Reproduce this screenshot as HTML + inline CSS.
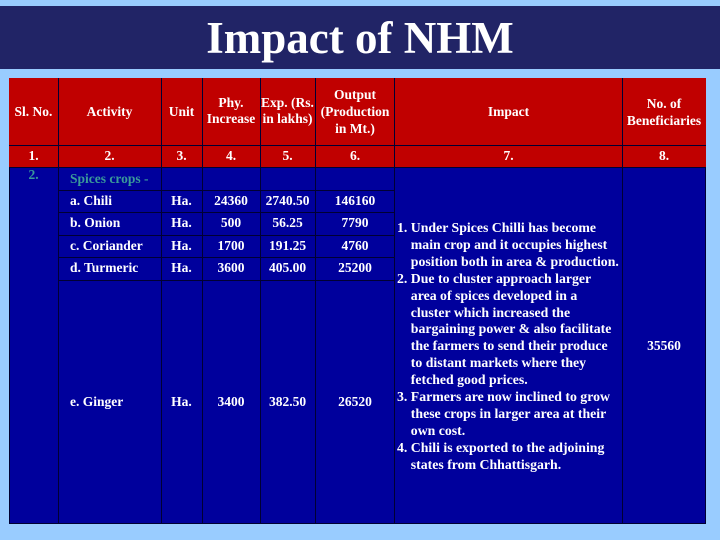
<!DOCTYPE html>
<html><head><meta charset="utf-8"><style>
body{margin:0;width:720px;height:540px;background:#99ccff;position:relative;overflow:hidden;font-family:"Liberation Serif",serif;font-weight:bold;color:#fff}
.t{position:absolute;font-size:13.5px;white-space:nowrap}
.c{text-align:center}
</style></head><body>
<div style="position:absolute;left:0;top:6px;width:720px;height:63px;background:#212466"></div>
<div style="position:absolute;left:0;top:10px;width:720px;text-align:center;font-size:45px;line-height:56px">Impact of NHM</div>

<div style="position:absolute;left:9px;top:78px;width:697px;height:446px;background:#00009c;border:1px solid #000033;box-sizing:border-box"></div>
<div style="position:absolute;left:9px;top:78px;width:697px;height:89px;background:#c00000"></div>

<div id="grid"></div>

<div class="t c" style="left:9px;width:49px;top:104px">Sl. No.</div>
<div class="t c" style="left:58px;width:103px;top:104px">Activity</div>
<div class="t c" style="left:161px;width:41px;top:104px">Unit</div>
<div class="t c" style="left:202px;width:58px;top:95px;line-height:16px">Phy.<br>Increase</div>
<div class="t c" style="left:260px;width:55px;top:95px;line-height:16px">Exp. (Rs.<br>in lakhs)</div>
<div class="t c" style="left:315px;width:80px;top:86px;line-height:17px">Output<br>(Production<br>in Mt.)</div>
<div class="t c" style="left:395px;width:227px;top:104px">Impact</div>
<div class="t c" style="left:622px;width:84px;top:95px;line-height:17px">No. of<br>Beneficiaries</div>

<div class="t c" style="left:9px;width:49px;top:148px">1.</div>
<div class="t c" style="left:58px;width:103px;top:148px">2.</div>
<div class="t c" style="left:161px;width:41px;top:148px">3.</div>
<div class="t c" style="left:202px;width:58px;top:148px">4.</div>
<div class="t c" style="left:260px;width:55px;top:148px">5.</div>
<div class="t c" style="left:315px;width:80px;top:148px">6.</div>
<div class="t c" style="left:395px;width:227px;top:148px">7.</div>
<div class="t c" style="left:622px;width:84px;top:148px">8.</div>

<div class="t c" style="left:9px;width:49px;top:167px;color:#3a9a9a">2.</div>
<div class="t" style="left:70px;top:171px;color:#3a9a9a">Spices crops -</div>

<div class="t" style="left:70px;top:193px">a. Chili</div>
<div class="t c" style="left:161px;width:41px;top:193px">Ha.</div>
<div class="t c" style="left:202px;width:58px;top:193px">24360</div>
<div class="t c" style="left:260px;width:55px;top:193px">2740.50</div>
<div class="t c" style="left:315px;width:80px;top:193px">146160</div>

<div class="t" style="left:70px;top:215px">b. Onion</div>
<div class="t c" style="left:161px;width:41px;top:215px">Ha.</div>
<div class="t c" style="left:202px;width:58px;top:215px">500</div>
<div class="t c" style="left:260px;width:55px;top:215px">56.25</div>
<div class="t c" style="left:315px;width:80px;top:215px">7790</div>

<div class="t" style="left:70px;top:238px">c. Coriander</div>
<div class="t c" style="left:161px;width:41px;top:238px">Ha.</div>
<div class="t c" style="left:202px;width:58px;top:238px">1700</div>
<div class="t c" style="left:260px;width:55px;top:238px">191.25</div>
<div class="t c" style="left:315px;width:80px;top:238px">4760</div>

<div class="t" style="left:70px;top:260px">d. Turmeric</div>
<div class="t c" style="left:161px;width:41px;top:260px">Ha.</div>
<div class="t c" style="left:202px;width:58px;top:260px">3600</div>
<div class="t c" style="left:260px;width:55px;top:260px">405.00</div>
<div class="t c" style="left:315px;width:80px;top:260px">25200</div>

<div class="t" style="left:70px;top:394px">e. Ginger</div>
<div class="t c" style="left:161px;width:41px;top:394px">Ha.</div>
<div class="t c" style="left:202px;width:58px;top:394px">3400</div>
<div class="t c" style="left:260px;width:55px;top:394px">382.50</div>
<div class="t c" style="left:315px;width:80px;top:394px">26520</div>

<div class="t" style="left:397px;top:220px;font-size:13.8px;line-height:16.9px;white-space:pre">1. Under Spices Chilli has become
    main crop and it occupies highest
    position both in area &amp; production.
2. Due to cluster approach larger
    area of spices developed in a
    cluster which increased the
    bargaining power &amp; also facilitate
    the farmers to send their produce
    to distant markets where they
    fetched good prices.
3. Farmers are now inclined to grow
    these crops in larger area at their
    own cost.
4. Chili is exported to the adjoining
    states from Chhattisgarh.</div>
<div class="t c" style="left:622px;width:84px;top:338px">35560</div>

<script>
var g=document.getElementById('grid');
function line(x,y,w,h){var d=document.createElement('div');


d.style.cssText='position:absolute;background:#000033;left:'+x+'px;top:'+y+'px;width:'+w+'px;height:'+h+'px';g.appendChild(d);}
[58,161,202,260,315,394,622].forEach(function(x){line(x,78,1,446);});
line(9,145,697,1);line(9,167,697,1);
[190,212,235,257,280].forEach(function(y){line(58,y,337,1);});
</script>
</body></html>
